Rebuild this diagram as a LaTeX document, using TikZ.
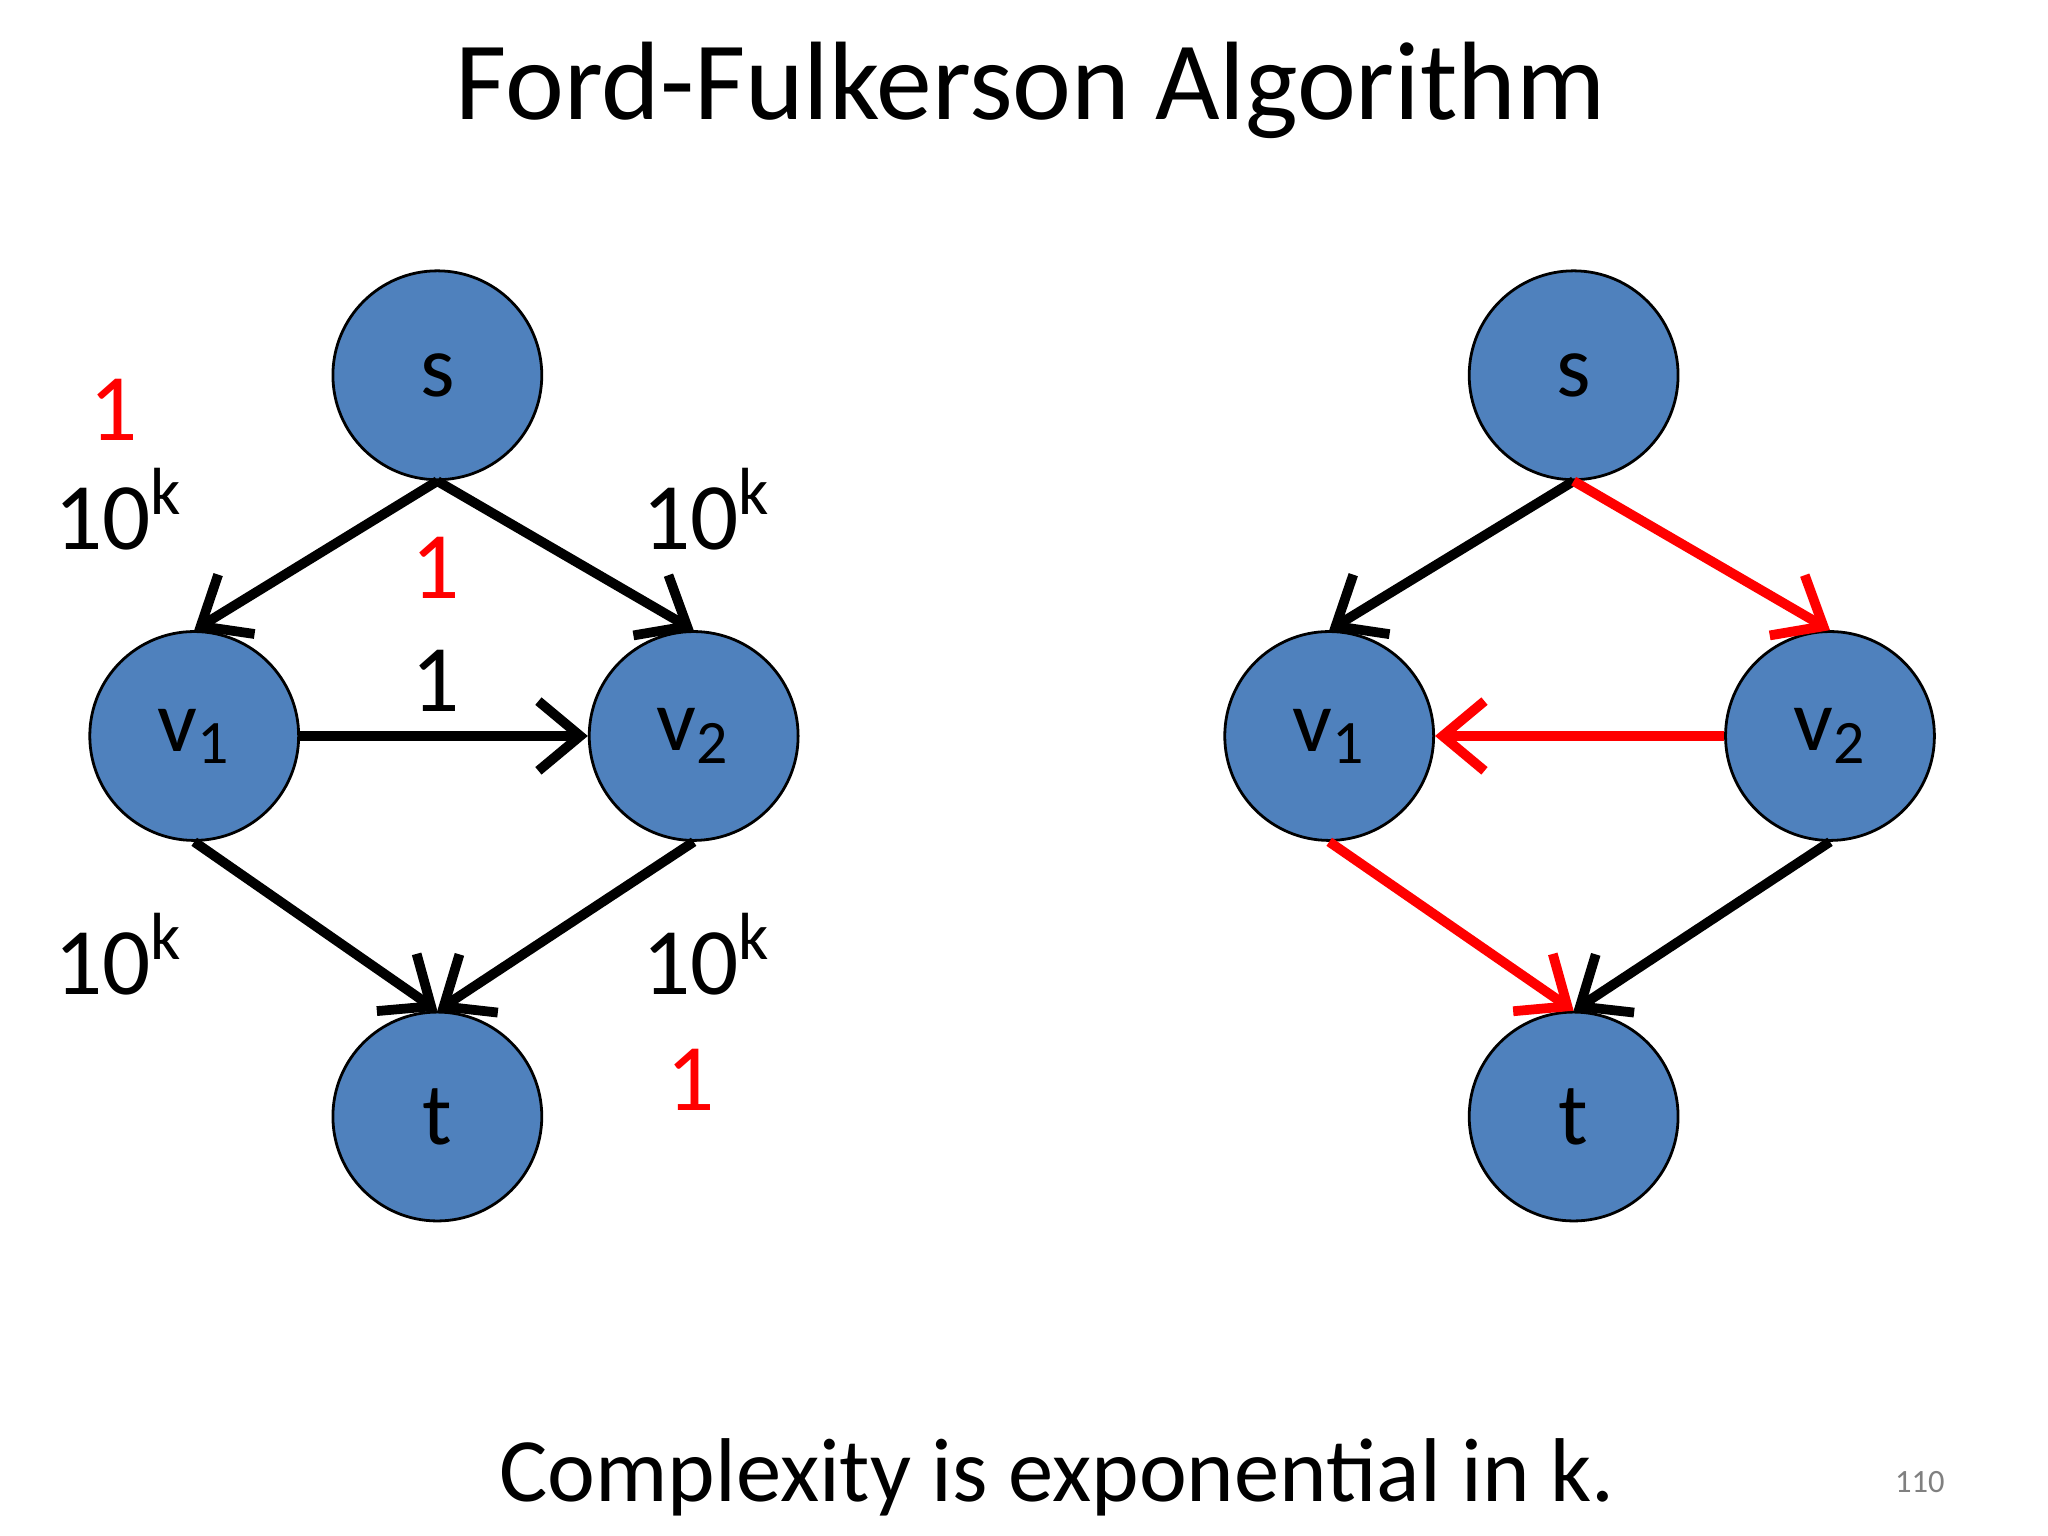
\documentclass[tikz,border=0pt]{standalone}
\usepackage{fontspec}
\setmainfont{Carlito}
\usetikzlibrary{arrows.meta}
\definecolor{nodeblue}{HTML}{4F81BD}
\definecolor{myred}{HTML}{FF0000}
\begin{document}
\begin{tikzpicture}[x=0.01cm,y=-0.01cm,
  vx/.style={circle,draw=black,line width=0.6pt,fill=nodeblue,minimum size=1.58cm,inner sep=0pt,font=\fontsize{19}{22}\selectfont},
  ed/.style={line width=2.1pt,-{Straight Barb[length=9pt,width=15pt,line width=2.1pt]}},
  red/.style={draw=myred},
  lab/.style={font=\fontsize{20.5}{24}\selectfont},
  rlab/.style={font=\fontsize{20.5}{24}\selectfont,text=myred}]
\useasboundingbox (0,0) rectangle (1550,1162);
\node[font=\fontsize{24}{28}\selectfont] (title) at (780,68) {Ford-Fulkerson Algorithm};
% left graph
\node[vx] (s) at (331,284) {s};
\node[vx] (v1) at (147,557) {v\textsubscript{1}};
\node[vx] (v2) at (525,557) {v\textsubscript{2}};
\node[vx] (t) at (331,845) {t};
\draw[ed] (s.south) -- (v1.north);
\draw[ed] (s.south) -- (v2.north);
\draw[ed] (v1.east) -- (v2.west);
\draw[ed] (v1.south) -- (t.north);
\draw[ed] (v2.south) -- (t.north);
\node[rlab] (r1) at (86,310) {1};
\node[lab] (c1) at (90,385) {10\textsuperscript{k}};
\node[rlab] (r2) at (330,430) {1};
\node[lab] (c2) at (535,385) {10\textsuperscript{k}};
\node[lab] (c3) at (330,515) {1};
\node[lab] (c4) at (90,722) {10\textsuperscript{k}};
\node[lab] (c5) at (535,722) {10\textsuperscript{k}};
\node[rlab] (r3) at (523,817) {1};
% right graph
\node[vx] (s2) at (1191,284) {s};
\node[vx] (w1) at (1006,557) {v\textsubscript{1}};
\node[vx] (w2) at (1385,557) {v\textsubscript{2}};
\node[vx] (t2) at (1191,845) {t};
\draw[ed] (s2.south) -- (w1.north);
\draw[ed,red] (s2.south) -- (w2.north);
\draw[ed,red] (w2.west) -- (w1.east);
\draw[ed,red] (w1.south) -- (t2.north);
\draw[ed] (w2.south) -- (t2.north);
\node[font=\fontsize{19.5}{23}\selectfont] (bottom) at (800,1118) {Complexity is exponential in k.};
\node[font=\fontsize{7}{8}\selectfont,text=gray] (pg) at (1453,1122) {110};
\end{tikzpicture}
\end{document}
